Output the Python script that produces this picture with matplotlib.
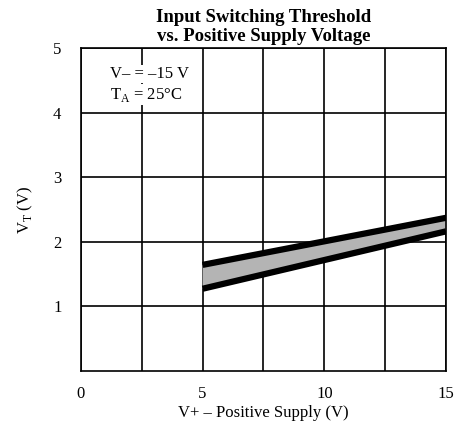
import numpy as np
import matplotlib.pyplot as plt

# supply voltage (V+) and threshold band edges
vSupply = [5, 15]
vtUpper = [1.64, 2.37]
vtLower = [1.27, 2.16]

xTicks = [0, 5, 10, 15]
yTicks = [1, 2, 3, 4, 5]
xGrid = [2.5, 7.5, 12.5]

plt.rcParams['font.family'] = ['Liberation Serif', 'DejaVu Serif']

fig = plt.figure(figsize=(4.57, 4.30), dpi=100)
ax = fig.add_axes([0.177, 0.138, 0.799, 0.750])

ax.fill_between(vSupply, vtLower, vtUpper, facecolor='#b4b4b4', edgecolor='none', zorder=2)
ax.plot(vSupply, vtUpper, color='black', lw=4.5, solid_capstyle='butt', zorder=3)
ax.plot(vSupply, vtLower, color='black', lw=4.5, solid_capstyle='butt', zorder=3)

ax.set_xlim(0, 15)
ax.set_ylim(0, 5)
ax.set_xticks(xTicks)
ax.set_yticks(yTicks)
ax.set_xticks(xGrid, minor=True)
ax.grid(True, which='both', axis='x', color='black', lw=1.2)
ax.grid(True, which='major', axis='y', color='black', lw=1.2)
ax.tick_params(which='both', length=0, labelsize=12)
ax.tick_params(axis='x', pad=11)
ax.tick_params(axis='y', pad=14)
for s in ax.spines.values():
    s.set_linewidth(1.2)

ax.set_xlabel('V+ – Positive Supply (V)', fontsize=12, labelpad=2)
ax.set_ylabel('V$_\\mathregular{T}$ (V)', fontsize=12, labelpad=13)

box = dict(facecolor='white', edgecolor='none', pad=1)
ax.text(1.2, 4.6, 'V– = –15 V', fontsize=12, va='center', bbox=box, zorder=4)
ax.text(1.2, 4.28, 'T$_\\mathregular{A}$ = 25°C', fontsize=12, va='center', bbox=box, zorder=4)

ax.set_title('Input Switching Threshold\nvs. Positive Supply Voltage',
             fontsize=13.5, fontweight='bold', linespacing=1.2, pad=5)

fig.savefig('out.png', dpi=100)
